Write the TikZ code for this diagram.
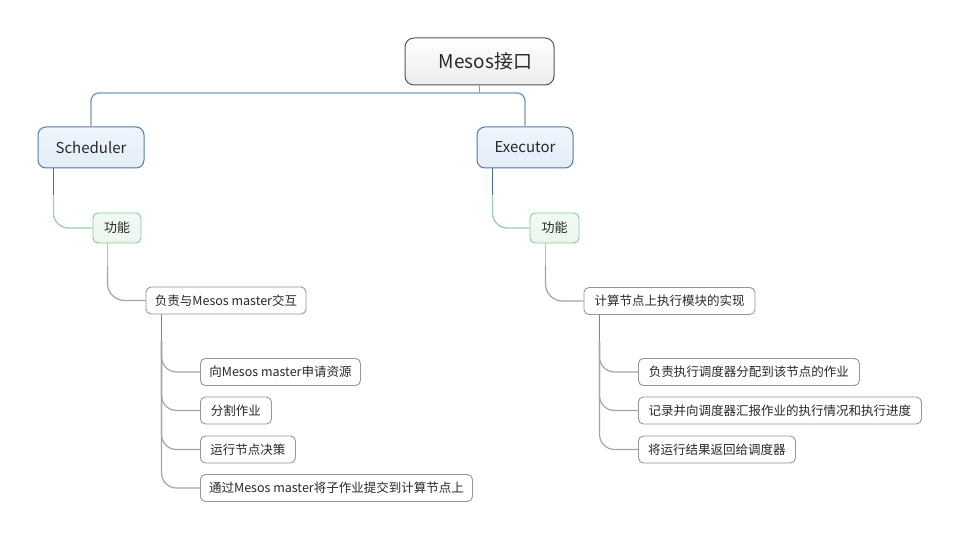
\documentclass[tikz,border=0pt]{standalone}
\usepackage{fontspec}
\setmainfont{Noto Sans CJK SC}
\usetikzlibrary{positioning}
\definecolor{rootln}{RGB}{125,155,195}
\definecolor{bluestem}{RGB}{72,106,150}
\definecolor{greenln}{RGB}{155,210,170}
\definecolor{grayln}{RGB}{165,165,165}
\definecolor{graydark}{RGB}{130,130,130}
\definecolor{rootbd}{RGB}{85,85,85}
\definecolor{rootfl}{RGB}{236,236,236}
\definecolor{bluebd}{RGB}{82,122,170}
\definecolor{bluefl}{RGB}{228,237,249}
\definecolor{greenbd}{RGB}{138,200,155}
\definecolor{greenfl}{RGB}{234,246,237}
\definecolor{itembd}{RGB}{150,150,150}
\definecolor{txt}{RGB}{40,40,40}
\tikzset{
  base/.style={rounded corners=6pt, inner sep=0pt, text=txt, align=center},
  rootbox/.style={base, draw=rootbd, line width=1pt, top color=white, bottom color=rootfl,
     minimum width=149pt, minimum height=47pt, rounded corners=9pt, font=\fontsize{19}{22}\selectfont},
  mainbox/.style={base, draw=bluebd, line width=1pt, top color=bluefl!60!white, bottom color=bluefl,
     minimum height=41pt, rounded corners=8pt, font=\fontsize{15}{18}\selectfont},
  funcbox/.style={base, draw=greenbd, line width=0.9pt, top color=greenfl!60!white, bottom color=greenfl,
     minimum width=48pt, minimum height=30pt, rounded corners=5pt, font=\fontsize{13}{15}\selectfont},
  itembox/.style={base, draw=itembd, line width=0.9pt, fill=white,
     minimum height=27pt, rounded corners=5pt, font=\fontsize{12.5}{15}\selectfont},
  rootline/.style={draw=rootln, line width=1.4pt},
  blueline/.style={draw=bluestem, line width=1.3pt},
  greenline/.style={draw=greenln, line width=1.3pt},
  grayline/.style={draw=grayln, line width=1.2pt},
  darkgrayline/.style={draw=graydark, line width=1.2pt},
}
\begin{document}
\begin{tikzpicture}[x=1pt,y=-1pt]
\fill[white] (0,0) rectangle (959,540);
\useasboundingbox (0,0) rectangle (959,540);

% nodes
\node[rootbox] (root) at (479.5,61.5) {\hspace*{12pt}Mesos接口};
\node[mainbox, minimum width=106pt] (sched) at (91,147.5) {Scheduler};
\node[mainbox, minimum width=96pt] (exec) at (525,147.5) {Executor};
\node[funcbox] (funcL) at (117,228) {功能};
\node[funcbox, minimum width=49pt] (funcR) at (554.5,228) {功能};
\node[itembox, minimum width=160pt] (interact) at (226,300.5) {负责与Mesos master交互};
\node[itembox, minimum width=171pt] (impl) at (669.5,301) {计算节点上执行模块的实现};

\node[itembox, anchor=west, minimum width=160pt] (l1) at (200,372) {向Mesos master申请资源};
\node[itembox, anchor=west, minimum width=71pt] (l2) at (200,410.5) {分割作业};
\node[itembox, anchor=west, minimum width=95pt] (l3) at (200,449.5) {运行节点决策};
\node[itembox, anchor=west, minimum width=272pt] (l4) at (200,488) {通过Mesos master将子作业提交到计算节点上};

\node[itembox, anchor=west, minimum width=221pt] (r1) at (638,372) {负责执行调度器分配到该节点的作业};
\node[itembox, anchor=west, minimum width=283pt] (r2) at (638,410.5) {记录并向调度器汇报作业的执行情况和执行进度};
\node[itembox, anchor=west, minimum width=157pt] (r3) at (638,449.5) {将运行结果返回给调度器};

% root connectors
\coordinate (hub) at (479.5,93);
\draw[rootline] (root.south) -- (hub);
\draw[rootline, rounded corners=8pt] (hub) -| (sched.north);
\draw[rootline, rounded corners=8pt] (hub) -| (exec.north);

% main -> function
\coordinate (sL) at ([xshift=16pt]sched.south west);
\coordinate (sR) at ([xshift=16pt]exec.south west);
\draw[blueline] (sL) -- ++(0,27) coordinate (sLm);
\draw[greenline, rounded corners=15pt] (sLm) |- (funcL.west);
\draw[blueline] (sR) -- ++(0,27) coordinate (sRm);
\draw[greenline, rounded corners=15pt] (sRm) |- (funcR.west);

% function -> item
\coordinate (fL) at ([xshift=15pt]funcL.south west);
\coordinate (fR) at ([xshift=16pt]funcR.south west);
\draw[greenline] (fL) -- ++(0,22) coordinate (fLm);
\draw[grayline, rounded corners=17pt] (fLm) |- (interact.west);
\draw[greenline] (fR) -- ++(0,22) coordinate (fRm);
\draw[grayline, rounded corners=17pt] (fRm) |- (impl.west);

% item -> sub items
\coordinate (tL) at ([xshift=16pt]interact.south west);
\coordinate (tR) at ([xshift=16pt]impl.south west);
\draw[darkgrayline] (tL) -- ++(0,27) coordinate (tLm);
\draw[darkgrayline] (tR) -- ++(0,27) coordinate (tRm);
\foreach \n in {l1,l2,l3,l4}{
  \draw[grayline, rounded corners=15pt] (tLm) |- (\n.west);
}
\foreach \n in {r1,r2,r3}{
  \draw[grayline, rounded corners=15pt] (tRm) |- (\n.west);
}
\end{tikzpicture}
\end{document}
